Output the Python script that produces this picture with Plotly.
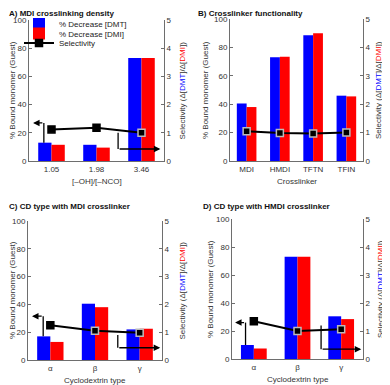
import plotly.graph_objects as go

# panel categories
cats_a = ["1.05", "1.98", "3.46"]
cats_b = ["MDI", "HMDI", "TFTN", "TFIN"]
cats_c = ["α", "β", "γ"]
cats_d = ["α", "β", "γ"]

# % decrease values (bound monomer)
dmt_a = [13, 11.5, 73]
dmi_a = [11.5, 9.5, 73]
dmt_b = [40.5, 73, 88.5, 46]
dmi_b = [38, 73.5, 90, 45.5]
dmt_c = [17, 40.5, 22]
dmi_c = [13, 38, 22.5]
dmt_d = [10, 73, 30.5]
dmi_d = [7.5, 73, 28.5]

# selectivity values
sel_a = [1.12, 1.18, 1.0]
sel_b = [1.05, 0.99, 0.97, 1.0]
sel_c = [1.25, 1.05, 0.98]
sel_d = [1.35, 1.0, 1.06]

titles = ["A) MDI crosslinking density", "B) Crosslinker functionality",
          "C) CD type with MDI crosslinker", "D) CD type with HMDI crosslinker"]
x_titles = ["[–OH]/[–NCO]", "Crosslinker", "Cyclodextrin type", "Cyclodextrin type"]
y_title = "% Bound monomer (Guest)"
y2_title = ("Selectivity (Δ[<span style='color:#0000ff'>DMT</span>]/"
            "Δ[<span style='color:#ff0000'>DMI</span>])")

# the page body adds an 8px margin, so work in window pixels and shift
OFF = 8
W, H = 390 - OFF, 385 - OFF


def px(x):
    return (x - OFF) / W


def py(y):
    return 1 - (y - OFF) / H


# plot boxes in window pixels: left, right, top, bottom
boxes = [(29, 164, 20, 161), (230, 363, 19, 161), (28, 162, 221, 360), (232, 363, 219, 359)]
title_pos = [(8, 8), (197, 8), (8, 201), (202, 201)]
ytitle_x = [12.5, 206, 12.5, 210]
y2title_x = [182, 379, 182, 380]
xtitle_y = [181.5, 181, 380, 379]

panels = [
    (cats_a, dmt_a, dmi_a, sel_a, [False, False, True]),
    (cats_b, dmt_b, dmi_b, sel_b, [True, True, True, True]),
    (cats_c, dmt_c, dmi_c, sel_c, [False, True, True]),
    (cats_d, dmt_d, dmi_d, sel_d, [False, True, True]),
]

font = "Liberation Sans, Arial, sans-serif"
axis_col = "#6e6e6e"
text_col = "#333333"
fs = 8

fig = go.Figure()
layout = dict(template="none", width=W, height=H, margin=dict(l=0, r=0, t=0, b=0),
              plot_bgcolor="white", paper_bgcolor="white",
              barmode="group", bargap=0.41, bargroupgap=0,
              font=dict(family=font, size=fs, color=text_col),
              showlegend=True)

# one legend per entry so the rows sit close together
legend_rows = [24, 33.5, 43]
for k, yp in enumerate(legend_rows):
    key = "legend" if k == 0 else f"legend{k + 1}"
    layout[key] = dict(x=px(19), y=py(yp), xanchor="left", yanchor="middle",
                       bgcolor="rgba(0,0,0,0)", font=dict(size=fs, color="#222"),
                       itemwidth=30, borderwidth=0)
legend_ids = ["legend", "legend2", "legend3"]

annotations = []
shapes = []

for i, (cats, dmt, dmi, sel, outlined) in enumerate(panels):
    n = i + 1
    xa = f"x{n}" if n > 1 else "x"
    ya = f"y{2 * n - 1}" if n > 1 else "y"
    ya2 = f"y{2 * n}"
    l, r, t, b = boxes[i]
    xdom = [px(l), px(r)]
    ydom = [py(b), py(t)]
    first = i == 0

    fig.add_trace(go.Bar(x=cats, y=dmt, name="% Decrease [DMT]", marker_color="#0000ff",
                         marker_line_width=0, xaxis=xa, yaxis=ya, showlegend=first,
                         legend=legend_ids[0], offsetgroup="a"))
    fig.add_trace(go.Bar(x=cats, y=dmi, name="% Decrease [DMI]", marker_color="#ff0000",
                         marker_line_width=0, xaxis=xa, yaxis=ya, showlegend=first,
                         legend=legend_ids[1], offsetgroup="b"))
    fig.add_trace(go.Scatter(x=cats, y=sel, name="Selectivity", mode="lines+markers",
                             line=dict(color="black", width=2),
                             marker=dict(symbol="square", size=7, color="black",
                                         line=dict(width=1.5,
                                                   color=["#bbbbbb" if o else "black" for o in outlined])),
                             xaxis=xa, yaxis=ya2, showlegend=first, legend=legend_ids[2]))

    xkey = "xaxis" if n == 1 else f"xaxis{n}"
    ykey = "yaxis" if n == 1 else f"yaxis{2 * n - 1}"
    ykey2 = f"yaxis{2 * n}"
    layout[xkey] = dict(domain=xdom, anchor=ya, type="category", showline=True, automargin=False,
                        linecolor=axis_col, linewidth=1, ticks="", showgrid=False, zeroline=False,
                        range=[-0.5, len(cats) - 0.5],
                        tickfont=dict(size=fs, color=text_col))
    layout[ykey] = dict(domain=ydom, anchor=xa, range=[0, 100], dtick=20, showline=True,
                        automargin=False,
                        linecolor=axis_col, linewidth=1, ticks="inside", ticklen=3,
                        tickcolor=axis_col, showgrid=False, zeroline=False,
                        tickfont=dict(size=fs, color=text_col))
    layout[ykey2] = dict(domain=ydom, anchor=xa, overlaying=ya, side="right", range=[0, 5], dtick=1,
                         showline=True, automargin=False,
                         linecolor=axis_col, linewidth=1, ticks="inside", ticklen=3,
                         tickcolor=axis_col, showgrid=False, zeroline=False,
                         tickfont=dict(size=fs, color=text_col))

    # panel title sits with its top on the given window pixel
    tx, ty = title_pos[i]
    annotations.append(dict(text=f"<b>{titles[i]}</b>", x=px(tx), y=py(ty), xref="paper",
                            yref="paper", xanchor="left", yanchor="top", showarrow=False,
                            borderpad=0, font=dict(size=fs, color="#111")))
    ymid = py((t + b) / 2)
    annotations.append(dict(text=y_title, x=px(ytitle_x[i]), y=ymid, xref="paper", yref="paper",
                            xanchor="center", yanchor="middle", textangle=-90, showarrow=False,
                            font=dict(size=fs, color=text_col)))
    annotations.append(dict(text=y2_title, x=px(y2title_x[i]), y=ymid, xref="paper", yref="paper",
                            xanchor="center", yanchor="middle", textangle=-90, showarrow=False,
                            font=dict(size=fs, color=text_col)))
    annotations.append(dict(text=x_titles[i], x=px((l + r) / 2), y=py(xtitle_y[i]), xref="paper",
                            yref="paper", xanchor="center", yanchor="middle", showarrow=False,
                            font=dict(size=fs, color=text_col)))

# arrow guides: (panel, x of vertical, y start, y corner, x tip) in data units
left_arrows = [(1, -0.17, 13, 27, -0.41), (3, -0.16, 17, 31.5, -0.41), (4, -0.19, 10, 26, -0.43)]
right_arrows = [(1, 1.48, 20, 8.5, 2.42), (3, 1.51, 18, 8.8, 2.46), (4, 1.54, 24, 7, 2.46)]

for n, xv, y0, y1, xt in left_arrows + right_arrows:
    xa = f"x{n}" if n > 1 else "x"
    ya = f"y{2 * n - 1}" if n > 1 else "y"
    shapes.append(dict(type="line", xref=xa, yref=ya, x0=xv, x1=xv, y0=y0, y1=y1,
                       line=dict(color="black", width=1.3)))
    annotations.append(dict(x=xt, y=y1, ax=xv, ay=y1, xref=xa, yref=ya, axref=xa, ayref=ya,
                            text="", showarrow=True, arrowhead=2, arrowsize=1, arrowwidth=1.3,
                            arrowcolor="black"))

layout["annotations"] = annotations
layout["shapes"] = shapes
fig.update_layout(**layout)

fig.write_html("out.html")
